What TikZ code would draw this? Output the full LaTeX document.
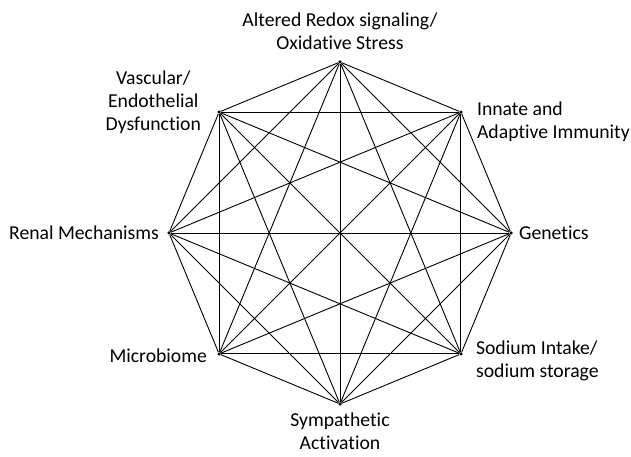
\documentclass[tikz,border=0pt]{standalone}
\usepackage{fontspec}
\setmainfont[Ligatures=NoCommon]{Carlito}
\usetikzlibrary{positioning}

\begin{document}
\begin{tikzpicture}[x=1pt, y=1pt,
    vtx/.style={circle, fill=black, inner sep=0pt, minimum size=3.5pt},
    lbl/.style={align=center, inner sep=0pt, font=\fontsize{19.7}{23}\selectfont},
    link/.style={line width=0.9pt}]
      \useasboundingbox (0,0) rectangle (631,457);
      \coordinate (c) at (340,224);

      % corners of the octagon
      \foreach \name/\ang in {ox/90, imm/45, gen/0, sod/-45, sym/-90, mic/-135, ren/180, vas/135}
        \node (\name) [vtx] at ([shift={(\ang:171)}]c) {};

      % every pair is joined
      \foreach \a [count=\i] in {ox,imm,gen,sod,sym,mic,ren,vas}
        \foreach \b [count=\j] in {ox,imm,gen,sod,sym,mic,ren,vas}
          {\ifnum\j>\i \draw[link] (\a) -- (\b); \fi}

      \node (oxt) [lbl, above=10pt of ox] {Altered Redox signaling/\\Oxidative Stress};
      \node (immt) [lbl, align=left, right=14pt of imm, yshift=-10pt] {Innate and\\Adaptive Immunity};
      \node (gent) [lbl, right=6pt of gen] {Genetics};
      \node (sodt) [lbl, align=left, right=13pt of sod, yshift=-7pt] {Sodium Intake/\\sodium storage};
      \node (symt) [lbl, below=7pt of sym] {Sympathetic\\Activation};
      \node (mict) [lbl, left=10pt of mic, yshift=-2pt] {Microbiome};
      \node (rent) [lbl, left=8pt of ren] {Renal Mechanisms};
      \node (vast) [lbl, left=16pt of vas, yshift=10pt] {Vascular/\\Endothelial\\Dysfunction};
    \end{tikzpicture}
\end{document}
